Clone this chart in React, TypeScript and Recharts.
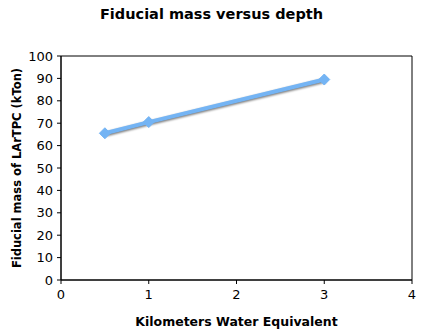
import React from "react";
import { LineChart, Line, XAxis, YAxis, ReferenceArea, Label } from "recharts";

const depthKmwe = [0.5, 1, 3];
const fiducialMass = [65.5, 70.5, 89.5];
const xTicks = [0, 1, 2, 3, 4];
const yTicks = [0, 10, 20, 30, 40, 50, 60, 70, 80, 90, 100];

const data = depthKmwe.map((x, i) => ({ x, y: fiducialMass[i] }));

const FONT = "Verdana, 'DejaVu Sans', sans-serif";

const Diamond = (props: any) => {
  const { cx, cy, index } = props;
  if (cx == null || cy == null) return null;
  const r = 5.5;
  return (
    <polygon
      key={`d-${index}`}
      points={`${cx},${cy - r} ${cx + r},${cy} ${cx},${cy + r} ${cx - r},${cy}`}
      fill="#74B4F4"
      stroke="#74B4F4"
      strokeWidth={1}
    />
  );
};

export default function App() {
  return (
    <div style={{ position: "absolute", left: 0, top: 0, width: 423, height: 331, background: "#fff" }}>
      <style>{`.recharts-line { filter: drop-shadow(1.5px 1.5px 0.8px rgba(0,0,0,0.55)); }`}</style>
      <div
        style={{
          position: "absolute",
          left: 0,
          top: 6,
          width: 423,
          textAlign: "center",
          fontFamily: FONT,
          fontWeight: "bold",
          fontSize: 14.5,
          color: "#000",
        }}
      >
        Fiducial mass versus depth
      </div>
      <LineChart
        width={423}
        height={331}
        data={data}
        margin={{ top: 56, right: 11, bottom: 0, left: 0 }}
      >
        <XAxis
          type="number"
          dataKey="x"
          domain={[0, 4]}
          ticks={xTicks}
          height={51}
          stroke="#000"
          tickSize={4}
          tick={{ fill: "#000", fontSize: 13, fontFamily: FONT }}
          tickMargin={6}
        >
          <Label
            value="Kilometers Water Equivalent"
            position="insideBottom"
            offset={5}
            style={{ fill: "#000", fontSize: 12.5, fontWeight: "bold", fontFamily: FONT }}
          />
        </XAxis>
        <YAxis
          type="number"
          domain={[0, 100]}
          ticks={yTicks}
          width={61}
          stroke="#000"
          tickSize={4}
          tick={{ fill: "#000", fontSize: 13, fontFamily: FONT }}
          tickMargin={4}
          interval={0}
        >
          <Label
            value="Fiducial mass of LArTPC (kTon)"
            angle={-90}
            position="insideLeft"
            offset={0}
            dx={17}
            style={{ fill: "#000", fontSize: 11.5, fontWeight: "bold", fontFamily: FONT, textAnchor: "middle" }}
          />
        </YAxis>
        <ReferenceArea x1={0} x2={4} y1={0} y2={100} fill="none" stroke="#000" strokeWidth={1} ifOverflow="visible" />
        <Line
          type="linear"
          dataKey="y"
          stroke="#74B4F4"
          strokeWidth={4}
          dot={Diamond}
          activeDot={false}
          isAnimationActive={false}
        />
      </LineChart>
    </div>
  );
}
